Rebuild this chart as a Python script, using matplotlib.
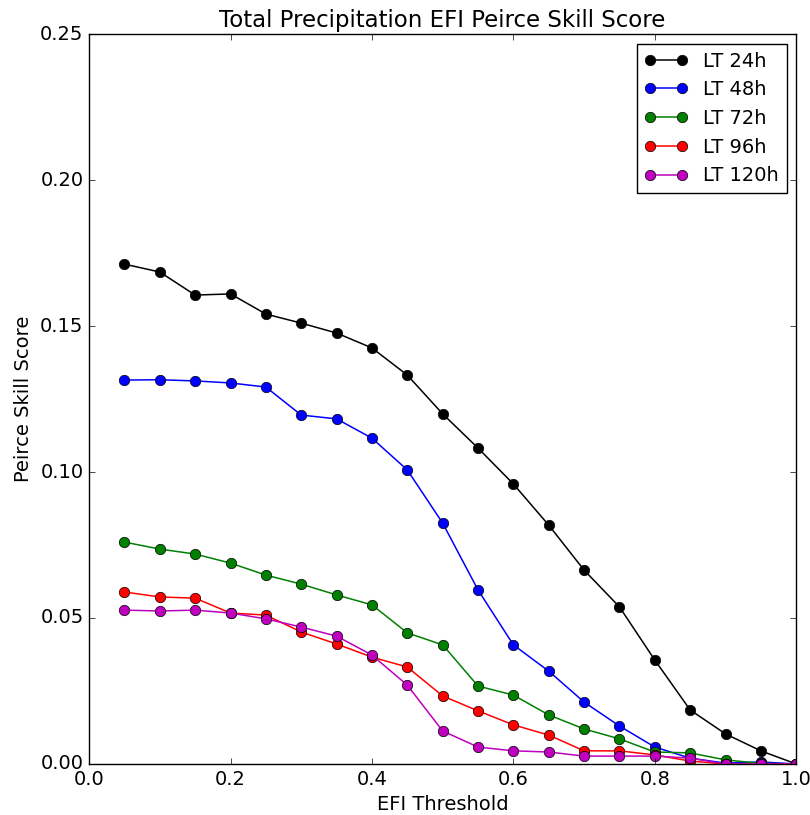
import numpy as np
import matplotlib
matplotlib.use('Agg')
import matplotlib.pyplot as plt

plt.style.use('classic')
plt.rcParams['font.size'] = 14

# EFI thresholds and Peirce skill score per lead time
thresholds = [0.05, 0.10, 0.15, 0.20, 0.25, 0.30, 0.35, 0.40, 0.45, 0.50,
              0.55, 0.60, 0.65, 0.70, 0.75, 0.80, 0.85, 0.90, 0.95, 1.00]

pss_24h = [0.1712, 0.1685, 0.1606, 0.1610, 0.1541, 0.1510, 0.1476, 0.1425, 0.1332, 0.1199,
           0.1082, 0.0959, 0.0818, 0.0664, 0.0538, 0.0356, 0.0185, 0.0103, 0.0045, 0.0]
pss_48h = [0.1315, 0.1316, 0.1312, 0.1305, 0.1291, 0.1195, 0.1182, 0.1116, 0.1007, 0.0825,
           0.0596, 0.0408, 0.0318, 0.0212, 0.0130, 0.0058, 0.0020, 0.0003, 0.0007, 0.0]
pss_72h = [0.0760, 0.0736, 0.0719, 0.0688, 0.0647, 0.0616, 0.0579, 0.0545, 0.0449, 0.0408,
           0.0267, 0.0236, 0.0168, 0.0120, 0.0086, 0.0041, 0.0038, 0.0014, 0.0002, 0.0]
pss_96h = [0.0589, 0.0572, 0.0568, 0.0517, 0.0510, 0.0452, 0.0411, 0.0366, 0.0332, 0.0233,
           0.0182, 0.0134, 0.0099, 0.0045, 0.0045, 0.0031, 0.0010, 0.0, 0.0, 0.0]
pss_120h = [0.0527, 0.0524, 0.0527, 0.0517, 0.0497, 0.0469, 0.0438, 0.0373, 0.0270, 0.0113,
            0.0058, 0.0045, 0.0041, 0.0027, 0.0027, 0.0027, 0.0020, 0.0, 0.0, 0.0]

labels = ['LT 24h', 'LT 48h', 'LT 72h', 'LT 96h', 'LT 120h']
colors = ['k', 'b', 'g', 'r', 'm']
series = [pss_24h, pss_48h, pss_72h, pss_96h, pss_120h]

fig = plt.figure(figsize=(8.1, 8.15), dpi=100, facecolor='white')
ax = fig.add_axes([0.110, 0.0626, 0.873, 0.8956])

for vals, c, lab in zip(series, colors, labels):
    ax.plot(thresholds, vals, '-o', color=c, markerfacecolor=c, markeredgecolor='k',
            markersize=7.5, linewidth=1.1, label=lab)

ax.set_xlim(0, 1.0)
ax.set_ylim(0, 0.25)
ax.set_xticks(np.arange(0, 1.01, 0.2))
ax.set_yticks(np.arange(0, 0.251, 0.05))
ax.tick_params(labelsize=14)
ax.set_xlabel('EFI Threshold', fontsize=14)
ax.set_ylabel('Peirce Skill Score', fontsize=14)
ax.set_title('Total Precipitation EFI Peirce Skill Score', fontsize=16.5)
ax.legend(loc='upper right', numpoints=2, fontsize=14, handlelength=2.2)

fig.savefig('out.png', dpi=100, facecolor='white')
